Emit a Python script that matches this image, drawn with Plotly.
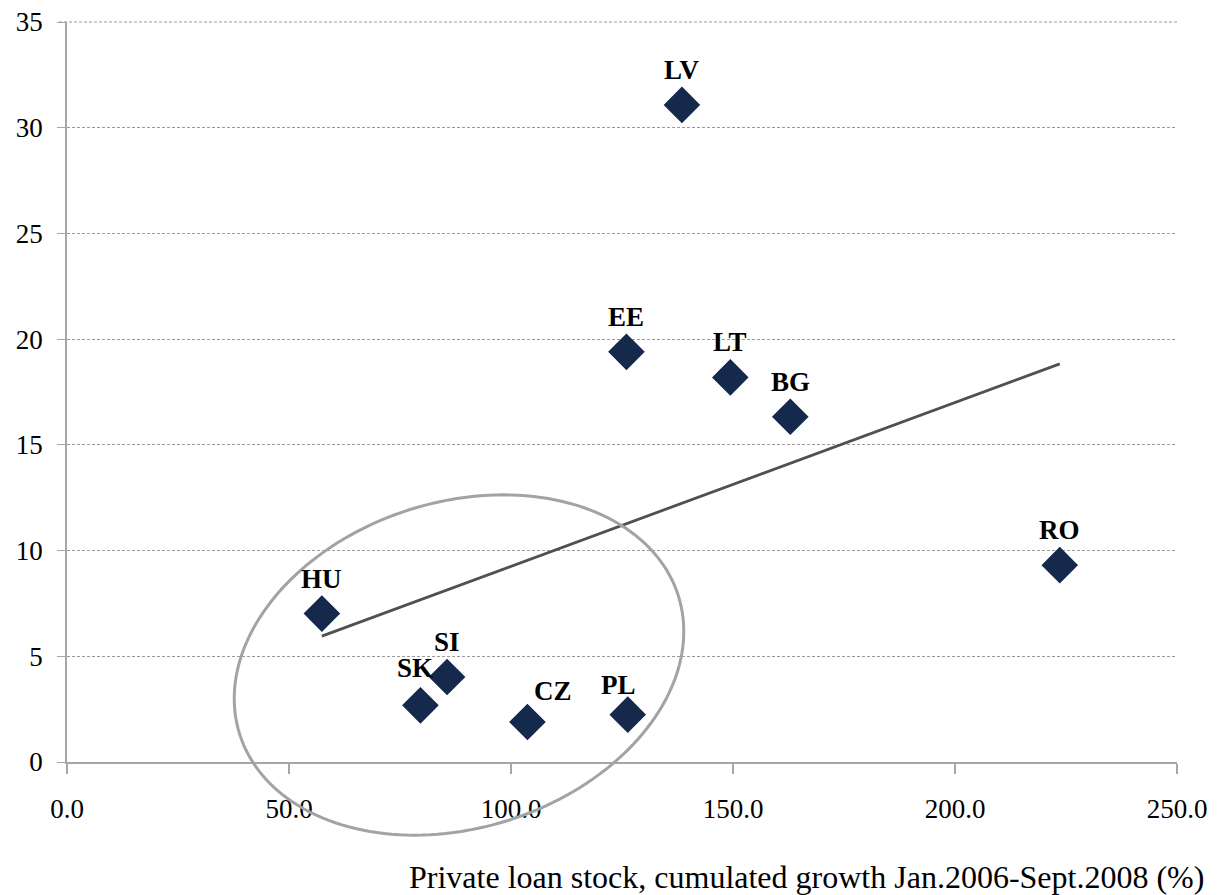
import numpy as np
import plotly.graph_objects as go

# ---- data ----
countries = ["LV", "EE", "LT", "BG", "RO", "HU", "SI", "SK", "CZ", "PL"]
loan_growth = [138.5, 126.0, 149.4, 162.9, 223.6, 57.4, 85.6, 79.6, 103.7, 126.3]
y_values = [31.08, 19.40, 18.19, 16.33, 9.31, 7.02, 4.02, 2.68, 1.89, 2.24]
x_ticks = [0, 50, 100, 150, 200, 250]
x_tick_labels = ["0.0", "50.0", "100.0", "150.0", "200.0", "250.0"]
y_ticks = [0, 5, 10, 15, 20, 25, 30, 35]
x_title = "Private loan stock, cumulated growth Jan.2006-Sept.2008 (%)"

# label offsets in pixels (style)
label_shift = {"CZ": 26, "SK": -5, "PL": -9}
label_yshift = {"CZ": 31, "PL": 30, "SK": 37}

W, H = 1224, 895
PL_, PR_, PT_, PB_ = 67, 1177, 22, 762   # plot area in page pixels
L, T = PL_, PT_
pw, ph = PR_ - PL_, PB_ - PT_
R, B = W - L - pw, H - T - ph

SERIF = "Liberation Serif, Times New Roman, serif"
NAVY = "#14294b"
GRID = "#9a9a9a"


def to_paper(px, py):
    return (px - PL_) / pw, (PB_ - py) / ph


fig = go.Figure()

# linear trend line (OLS) over the data range
slope, intercept = np.polyfit(loan_growth, y_values, 1)
tx = np.array([min(loan_growth), max(loan_growth)])
fig.add_trace(go.Scatter(
    x=tx, y=slope * tx + intercept, mode="lines",
    line=dict(color="#505050", width=2.8), hoverinfo="skip", showlegend=False))

fig.add_trace(go.Scatter(
    x=loan_growth, y=y_values, mode="markers", text=countries,
    marker=dict(symbol="diamond", size=26, color=NAVY,
                line=dict(color=NAVY, width=2)),
    showlegend=False))

for c, xv, yv in zip(countries, loan_growth, y_values):
    fig.add_annotation(
        x=xv, y=yv, text=f"<b>{c}</b>", showarrow=False,
        xshift=label_shift.get(c, 0), yshift=label_yshift.get(c, 35),
        font=dict(family=SERIF, size=27, color="black"))

# top grid line at the range edge (plotly omits it); the plot top is paper y=1
fig.add_shape(type="line", xref="paper", x0=-8 / pw, x1=1, yref="paper",
              y0=1, y1=1,
              line=dict(color=GRID, width=1, dash="3px,2px"), layer="above")

# highlight ellipse (decoration, drawn in paper coordinates)
cx, cy, a, b, th = 459, 665, 230, 163, np.deg2rad(17.5)
t = np.linspace(0, 2 * np.pi, 181)
px = cx + a * np.cos(t) * np.cos(th) - b * np.sin(t) * np.sin(th)
py = cy - (a * np.cos(t) * np.sin(th) + b * np.sin(t) * np.cos(th))
xp, yp = to_paper(px, py)
path = "M " + " L ".join(f"{u:.5f},{v:.5f}" for u, v in zip(xp, yp)) + " Z"
fig.add_shape(type="path", path=path, xref="paper", yref="paper",
              line=dict(color="#a3a3a3", width=3), fillcolor="rgba(0,0,0,0)",
              layer="above")

tx_p, ty_p = to_paper(1206, 877)
fig.add_annotation(
    x=tx_p, y=ty_p, xref="paper", yref="paper",
    xanchor="right", yanchor="middle", showarrow=False, text=x_title,
    font=dict(family=SERIF, size=32, color="black"))

fig.update_layout(
    width=W, height=H,
    margin=dict(l=L, r=R, t=T, b=B, autoexpand=False),
    paper_bgcolor="white", plot_bgcolor="white",
    xaxis=dict(range=[0, 250], tickvals=x_ticks, ticktext=x_tick_labels,
               showgrid=False, zeroline=False, showline=True,
               linecolor="#a6a6a6", linewidth=1.5,
               ticks="outside", ticklen=10, tickcolor="#a6a6a6", tickwidth=1.5,
               ticklabelstandoff=12,
               tickfont=dict(family=SERIF, size=27, color="black")),
    yaxis=dict(range=[0, 35], tickvals=y_ticks,
               showgrid=True, gridcolor=GRID, griddash="3px,2px", gridwidth=1,
               zeroline=False, showline=True,
               linecolor="#a6a6a6", linewidth=1.5,
               ticks="outside", ticklen=8, tickcolor="#a6a6a6", tickwidth=1,
               ticklabelstandoff=9,
               tickfont=dict(family=SERIF, size=27, color="black")),
)

fig.write_html("out.html", config={"displayModeBar": False},
               post_script="document.body.style.margin='0';"
                           "document.body.style.overflow='hidden';")
